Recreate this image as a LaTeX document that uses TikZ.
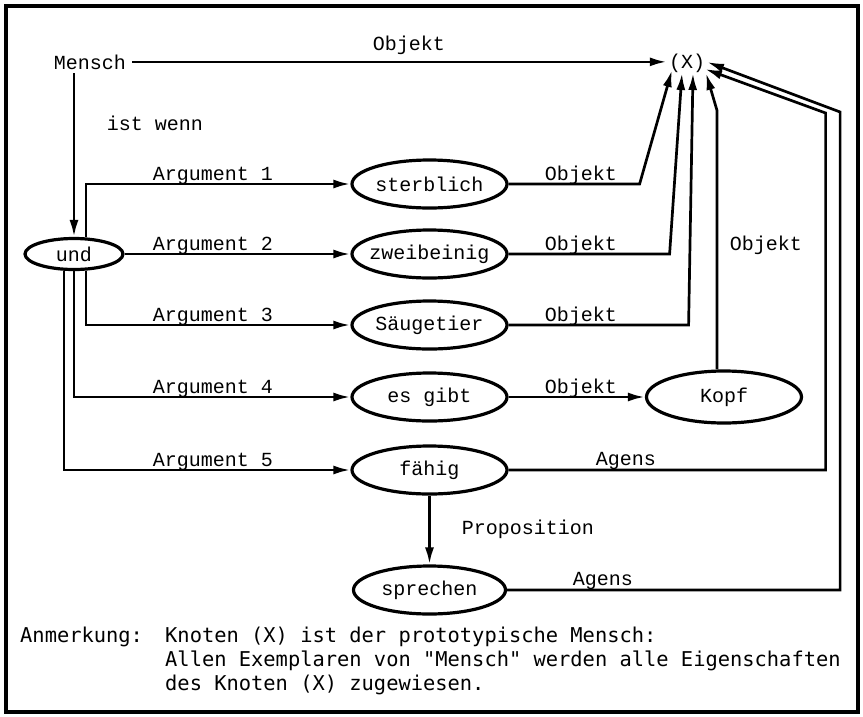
\documentclass[tikz,border=0pt]{standalone}
\usepackage{fontspec}
\usetikzlibrary{arrows.meta,shapes.geometric}
\newfontfamily\lblfont{Liberation Mono}
\newfontfamily\notefont{DejaVu Sans Mono}
% zero-width box so the ellipse size is set only by its minimum dimensions
\newcommand\mkctr[1]{\makebox[0pt]{#1}}

\begin{document}
\begin{tikzpicture}[x=1pt,y=-1pt,
  every node/.style={font=\lblfont\fontsize{20}{24}\selectfont, inner sep=0pt},
  concept/.style={ellipse, draw, line width=3.2pt, minimum width=155pt, minimum height=48pt},
  wire/.style={line width=2.7pt, line join=miter},
  arr/.style={wire, -{Latex[length=17pt,width=9pt]}},
  lbl/.style={anchor=base},
  note/.style={font=\notefont\fontsize{20.4}{24}\selectfont, anchor=base west},
]
\fill[white] (0,0) rectangle (863,716);
\useasboundingbox (0,0) rectangle (863,716);
\draw[line width=4pt] (6,6) rectangle (858,712);

% concepts
\node[lbl] (mensch) at (90,69) {Mensch};
\node[lbl] (proto) at (687,68) {(X)};
\node[concept, minimum width=98pt, minimum height=31pt] (und) at (74,254) {\mkctr{und}};
\node[concept] (sterb)  at (429.5,184) {\mkctr{sterblich}};
\node[concept] (zwei)   at (429.5,254) {\mkctr{zweibeinig}};
\node[concept] (saeug)  at (429.5,325) {\mkctr{Säugetier}};
\node[concept] (gibt)   at (429.5,397) {\mkctr{es gibt}};
\node[concept] (faehig) at (429.5,470) {\mkctr{fähig}};
\node[concept, minimum height=52pt] (kopf) at (724,397) {\mkctr{Kopf}};
\node[concept, minimum width=152pt] (sprech) at (429.5,590) {\mkctr{sprechen}};

% arrow ends at the prototype node
\coordinate (inS) at ([shift={(-15,2)}]proto.base);
\coordinate (inZ) at ([shift={(-5,5)}]proto.base);
\coordinate (inG) at ([shift={(6,5)}]proto.base);
\coordinate (inK) at ([shift={(19,5)}]proto.base);
\coordinate (inF) at ([shift={(18,1)}]proto.base);
\coordinate (inP) at ([shift={(20,-6)}]proto.base);

% relations
\draw[arr] ([xshift=6pt]mensch.east) -- ([xshift=-2pt]mensch.east -| proto.west);
\draw[arr] ([yshift=-4pt]mensch.south -| und.north) -- (und.north);

\draw[arr] ([xshift=12pt]und.north) |- (sterb.west);
\draw[arr] (und.east) -- (zwei.west);
\draw[arr] ([xshift=12pt]und.south) |- (saeug.west);
\draw[arr] (und.south) |- (gibt.west);
\draw[arr] ([xshift=-10pt]und.south) |- (faehig.west);

\draw[arr] (sterb.east) -- ++(131,0) -- (inS);
\draw[arr] (zwei.east) -- ++(161,0) -- (inZ);
\draw[arr] (saeug.east) -- ++(180,0) -- (inG);
\draw[arr] (gibt.east) -- (kopf.west);
\draw[arr] ([xshift=-7pt]kopf.north) -- ++(0,-259) -- (inK);
\draw[arr] (faehig.east) -- ++(317,0) -- ++(0,-357) -- (inF);
\draw[arr] (sprech.east) -- ++(333,0) -- ++(0,-478) -- (inP);
\draw[arr] (faehig.south) -- (sprech.north);

% relation labels
\node[lbl] (lObjTop) at (409,50) {Objekt};
\node[lbl] (lIst) at (155,130) {ist wenn};
\node[lbl] (lA1) at (213,180) {Argument 1};
\node[lbl] (lA2) at (213,250) {Argument 2};
\node[lbl] (lA3) at (213,321) {Argument 3};
\node[lbl] (lA4) at (213,393) {Argument 4};
\node[lbl] (lA5) at (213,466) {Argument 5};
\node[lbl] (lO1) at (581,180) {Objekt};
\node[lbl] (lO2) at (581,250) {Objekt};
\node[lbl] (lO3) at (581,321) {Objekt};
\node[lbl] (lO4) at (581,393) {Objekt};
\node[lbl] (lOK) at (766,250) {Objekt};
\node[lbl] (lAg1) at (626,465) {Agens};
\node[lbl] (lAg2) at (603,585) {Agens};
\node[lbl] (lProp) at (528,534) {Proposition};

% remark
\node[note] (n1) at (20,642) {Anmerkung:};
\node[note] (n2) at (165,642) {Knoten (X) ist der prototypische Mensch:};
\node[note] (n3) at (165,666) {Allen Exemplaren von "Mensch" werden alle Eigenschaften};
\node[note] (n4) at (165,690) {des Knoten (X) zugewiesen.};
\end{tikzpicture}
\end{document}
